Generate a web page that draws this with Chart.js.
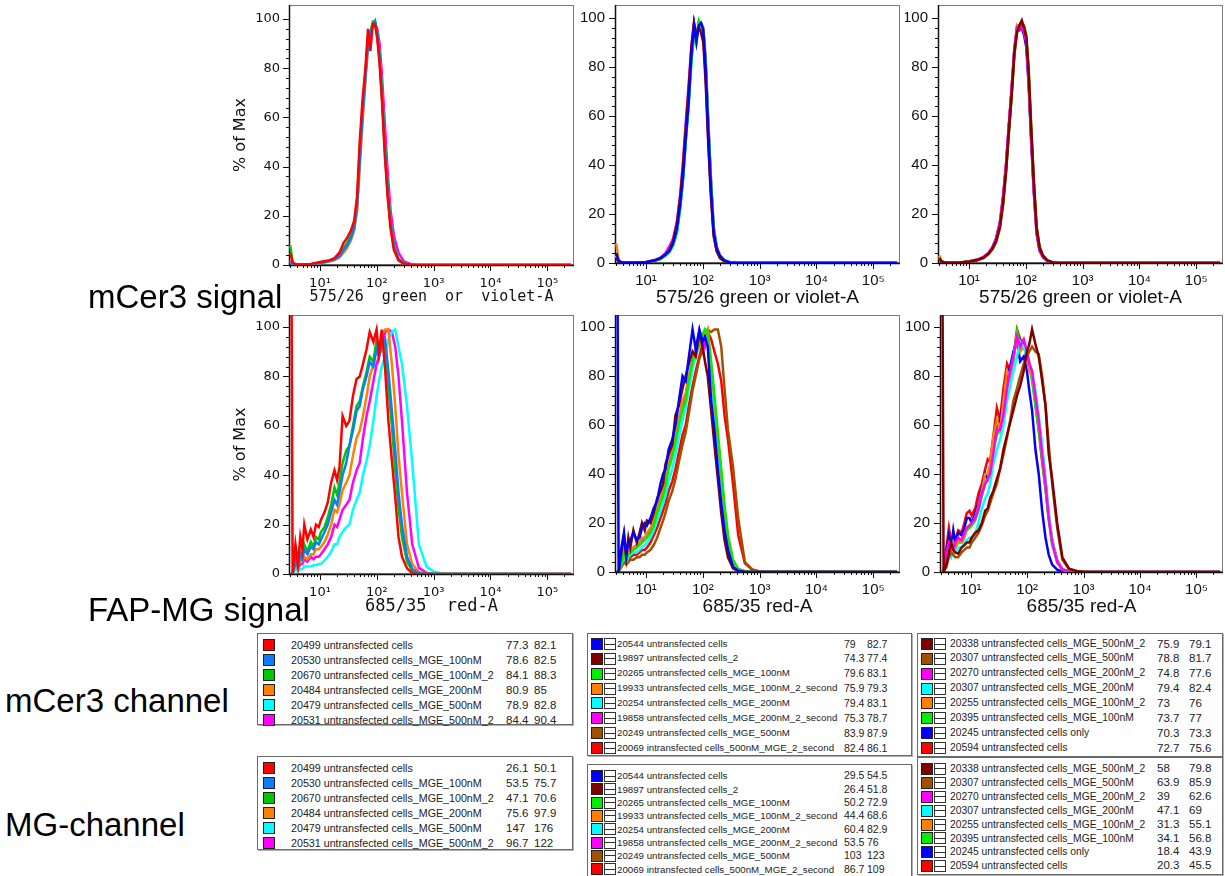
<!DOCTYPE html>
<html>
<head>
<meta charset="utf-8">
<script src="https://cdn.jsdelivr.net/npm/chart.js@4.4.1/dist/chart.umd.min.js"></script>
<style>
  body { margin: 0; width: 1225px; height: 876px; position: relative; overflow: hidden; background: #fff; font-family: "Liberation Sans", Arial, sans-serif; }
  canvas { position: absolute; }
  .lab { position: absolute; white-space: nowrap; line-height: 1; color: #000; z-index: 5; font-size: 33px; }
  .tbl { position: absolute; box-sizing: border-box; border: 1px solid #6a6a6a; box-shadow: 1px 1px 0 #b0b0b0; background: #fff; color: #222; z-index: 4; }
  .tbl span { position: absolute; white-space: nowrap; }
  .sw { width: 10px; height: 10px; border: 1px solid #222; }
  .ic { width: 10px; height: 10px; border: 1px solid #333; background: linear-gradient(#333, #333) center / 100% 1px no-repeat, #fff; }
</style>
</head>
<body>
<canvas id="p1"></canvas>
<canvas id="p2"></canvas>
<canvas id="p3"></canvas>
<canvas id="p4"></canvas>
<canvas id="p5"></canvas>
<canvas id="p6"></canvas>

<div class="lab" style="left:88px;top:280px">mCer3 signal</div>
<div class="lab" style="left:88px;top:593px">FAP-MG signal</div>
<div class="lab" style="left:5px;top:684px">mCer3 channel</div>
<div class="lab" style="left:5px;top:808px">MG-channel</div>

<script>
// --- dane: kanały (os X, skala log) ---
const xTop = [3, 3.3, 3.8, 5, 7, 10, 14, 18, 22, 26, 30, 35, 40, 45, 50, 56, 63, 70, 77, 85, 93, 102, 112, 124, 138, 155, 175, 200, 240, 300, 400, 600, 1000, 262144];
const xBot = [3.0, 3.3, 3.7, 4.1, 4.5, 4.9, 5.3, 6.0, 6.9, 7.7, 8.5, 9.5, 10.4, 12, 13.7, 15.7, 18, 20, 22, 25, 29, 33, 38, 44, 50, 57, 66, 75, 87, 99, 109, 122, 140, 160, 184, 211, 241, 277, 340, 420, 550, 750, 1000, 1400, 262144];

const xMajorTicks = [10, 100, 1000, 10000, 100000];
const xTickLabels = ['10¹', '10²', '10³', '10⁴', '10⁵'];
const yMajorTicks = [0, 20, 40, 60, 80, 100];

// --- grupa A (lewa kolumna) ---
const groupANames = ['20499 untransfected cells', '20530 untransfected cells_MGE_100nM', '20670 untransfected cells_MGE_100nM_2', '20484 untransfected cells_MGE_200nM', '20479 untransfected cells_MGE_500nM', '20531 untransfected cells_MGE_500nM_2'];
const groupAmCer = [[77.3, 82.1], [78.6, 82.5], [84.1, 88.3], [80.9, 85], [78.9, 82.8], [84.4, 90.4]];
const groupAMG = [[26.1, 50.1], [53.5, 75.7], [47.1, 70.6], [75.6, 97.9], [147, 176], [96.7, 122]];

// mCer3 histogramy, grupa A
const aTopRed     = [5, 1, 0.2, 0.2, 0.4, 1.2, 1.8, 2.8, 5, 9, 11, 14, 18, 28, 50, 67, 80, 96, 87, 98, 98, 92, 82, 66, 45, 28, 15, 6, 2, 0.5, 0.1, 0, 0, 0];
const aTopBlue    = [1.5, 0.5, 0.2, 0.2, 0.3, 0.8, 1.5, 2.2, 3.5, 6, 8, 11, 15, 24, 42, 60, 76, 90, 95, 97, 99, 94, 84, 68, 48, 30, 16, 7, 2.2, 0.6, 0.1, 0, 0, 0];
const aTopGreen   = [8, 1, 0.2, 0.2, 0.3, 0.9, 1.6, 2.4, 4, 7, 9, 12, 16, 26, 47, 63, 78, 92, 94, 99, 99, 95, 85, 70, 50, 32, 17, 8, 2.6, 0.7, 0.1, 0, 0, 0];
const aTopOrange  = [2, 0.5, 0.2, 0.2, 0.3, 0.7, 1.3, 2, 3, 5, 7, 10, 14, 22, 40, 58, 75, 89, 94, 98, 98, 93, 83, 67, 47, 29, 15, 7, 2, 0.5, 0.1, 0, 0, 0];
const aTopCyan    = [1.5, 0.5, 0.2, 0.2, 0.3, 0.8, 1.5, 2.2, 3.4, 6, 8, 11, 15, 24, 43, 61, 77, 91, 95, 98, 99, 94, 85, 69, 49, 31, 17, 8, 2.5, 0.6, 0.1, 0, 0, 0];
const aTopMagenta = [1.5, 0.5, 0.2, 0.2, 0.3, 0.8, 1.5, 2.2, 3.5, 6, 8, 11, 15, 24, 43, 61, 77, 90, 94, 97, 98, 96, 90, 76, 58, 38, 22, 12, 5, 1.5, 0.3, 0, 0, 0];

// MG histogramy, grupa A
const aBotRed     = [250, 0, 12, 4, 15, 10, 20, 14, 18, 15, 20, 19, 22, 25, 29, 37, 42, 38, 43, 64, 60, 62, 72, 79, 80, 85, 91, 98, 94, 99, 89, 99, 83, 62, 46, 31, 15, 7, 2.3, 0.3, 0, 0, 0, 0, 0];
const aBotBlue    = [0, 0, 5, 3, 8, 6, 10, 8, 11, 10, 13, 12, 14, 17, 20, 25, 30, 28, 33, 40, 45, 52, 58, 66, 68, 75, 80, 86, 84, 91, 88, 92, 95, 82, 66, 50, 33, 20, 7, 2, 0.3, 0, 0, 0, 0];
const aBotGreen   = [0, 0, 6, 3, 9, 7, 12, 9, 13, 11, 15, 14, 17, 19, 23, 28, 35, 32, 37, 45, 50, 52, 60, 68, 70, 76, 82, 88, 86, 95, 90, 96, 92, 75, 60, 42, 27, 15, 5, 1.2, 0.2, 0, 0, 0, 0];
const aBotOrange  = [0, 0, 4, 2, 6, 5, 7, 6, 8, 8, 10, 10, 11, 13, 16, 20, 26, 25, 28, 34, 37, 40, 48, 55, 58, 64, 72, 80, 85, 93, 90, 97, 99, 99, 85, 68, 48, 33, 12, 4, 0.8, 0, 0, 0, 0];
const aBotCyan    = [0, 0, 2, 1, 2, 2, 3, 3, 3, 3.5, 3.5, 4, 4, 5.5, 7, 9, 12, 12, 15, 17, 19, 20, 26, 30, 33, 40, 46, 52, 62, 72, 78, 84, 88, 95, 98, 99, 92, 85, 68, 45, 12, 3, 1, 0.2, 0];
const aBotMagenta = [0, 0, 3, 2, 4, 4, 6, 5, 7, 6, 7, 7, 8, 10, 12, 15, 20, 19, 22, 26, 28, 30, 37, 42, 45, 55, 64, 70, 78, 85, 88, 92, 98, 99, 98, 92, 80, 62, 33, 12, 2.5, 0.5, 0, 0, 0];

// --- grupa B (środkowa kolumna) ---
const groupBNames = ['20544 untransfected cells', '19897 untransfected cells_2', '20265 untransfected cells_MGE_100nM', '19933 untransfected cells_MGE_100nM_2_second', '20254 untransfected cells_MGE_200nM', '19858 untransfected cells_MGE_200nM_2_second', '20249 untransfected cells_MGE_500nM', '20069 intransfected cells_500nM_MGE_2_second'];
const groupBmCer = [[79, 82.7], [74.3, 77.4], [79.6, 83.1], [75.9, 79.3], [79.4, 83.1], [75.3, 78.7], [83.9, 87.9], [82.4, 86.1]];
const groupBMG = [[29.5, 54.5], [26.4, 51.8], [50.2, 72.9], [44.4, 68.6], [60.4, 82.9], [53.5, 76], [103, 123], [86.7, 109]];

const bTopBlue    = [4, 1, 0.2, 0.1, 0.1, 0.3, 1, 2, 3.5, 5, 8, 14, 24, 36, 51, 65, 85, 97, 90, 97, 98, 95, 80, 55, 32, 13, 6, 3, 1, 0.2, 0, 0, 0, 0];
const bTopDarkRed = [2, 0.5, 0.2, 0.1, 0.1, 0.3, 1, 2, 3.5, 5.5, 9, 16, 27, 40, 55, 70, 88, 98, 93, 96, 94, 90, 74, 50, 28, 11, 5, 2, 0.7, 0.1, 0, 0, 0, 0];
const bTopGreen   = [3, 0.5, 0.2, 0.1, 0.1, 0.3, 0.8, 1.6, 3, 4.5, 7, 12, 22, 34, 49, 63, 82, 92, 90, 99, 97, 95, 81, 57, 34, 14, 6, 3, 1, 0.2, 0, 0, 0, 0];
const bTopOrange  = [8, 1, 0.2, 0.1, 0.1, 0.3, 1, 2, 3.5, 5.5, 9, 15, 26, 39, 54, 68, 86, 97, 92, 96, 96, 92, 78, 54, 31, 12, 5, 2.5, 0.8, 0.1, 0, 0, 0, 0];
const bTopCyan    = [3, 0.5, 0.2, 0.1, 0.1, 0.3, 0.9, 1.8, 3.2, 5, 8, 13, 23, 35, 50, 64, 83, 95, 91, 98, 97, 95, 81, 57, 34, 14, 6, 3, 1, 0.2, 0, 0, 0, 0];
const bTopMagenta = [3, 0.5, 0.2, 0.1, 0.1, 0.4, 1.2, 2.2, 4, 7, 10, 17, 28, 42, 57, 72, 89, 98, 92, 96, 95, 92, 77, 52, 30, 12, 5, 2.5, 0.8, 0.1, 0, 0, 0, 0];
const bTopBrown   = [3, 0.5, 0.2, 0.1, 0.1, 0.3, 0.9, 1.9, 3.3, 5, 8, 14, 24, 37, 52, 67, 86, 96, 93, 98, 98, 96, 84, 60, 36, 15, 7, 3, 1, 0.2, 0, 0, 0, 0];
const bTopRed     = [3, 0.5, 0.2, 0.1, 0.1, 0.3, 0.8, 1.7, 3, 4.8, 7.5, 13, 23, 35, 50, 65, 84, 97, 92, 97, 97, 95, 82, 58, 35, 14, 6, 3, 1, 0.2, 0, 0, 0, 0];

const bBotBlue    = [250, 0, 10, 16, 7, 12, 13, 16, 13, 14, 18, 20, 19, 22, 26, 29, 36, 40, 42, 50, 54, 60, 70, 80, 78, 88, 99, 91, 99, 94, 96, 92, 70, 58, 42, 28, 17, 9, 2, 0.5, 0, 0, 0, 0, 0];
const bBotDarkRed = [0, 0, 8, 15, 6, 14, 10, 17, 12, 16, 20, 17, 21, 20, 24, 30, 33, 36, 44, 48, 52, 64, 68, 75, 80, 85, 90, 88, 98, 92, 86, 80, 66, 52, 38, 24, 13, 6, 1.5, 0.3, 0, 0, 0, 0, 0];
const bBotGreen   = [0, 0, 3, 8, 5, 7, 8, 9, 10, 11, 12, 13, 14, 16, 19, 24, 28, 31, 35, 42, 47, 53, 60, 66, 70, 78, 86, 90, 93, 97, 99, 98, 86, 72, 57, 42, 27, 15, 5, 1.2, 0.3, 0, 0, 0, 0];
const bBotOrange  = [0, 0, 4, 9, 5, 8, 9, 10, 11, 12, 14, 14, 16, 18, 21, 26, 31, 33, 38, 46, 50, 57, 63, 70, 73, 80, 86, 90, 92, 97, 96, 99, 84, 70, 54, 40, 25, 13, 4, 1, 0.2, 0, 0, 0, 0];
const bBotCyan    = [0, 0, 3, 6, 4, 6, 7, 8, 8, 9, 10, 11, 12, 14, 17, 21, 25, 28, 31, 37, 42, 48, 55, 62, 67, 75, 83, 88, 92, 96, 99, 96, 82, 66, 52, 38, 24, 13, 4, 1, 0.2, 0, 0, 0, 0];
const bBotMagenta = [0, 0, 4, 8, 5, 8, 9, 10, 11, 12, 13, 14, 15, 17, 20, 25, 30, 33, 38, 45, 50, 56, 62, 68, 72, 80, 86, 91, 94, 96, 92, 97, 84, 68, 54, 40, 26, 14, 4.5, 1.2, 0.2, 0, 0, 0, 0];
const bBotBrown   = [0, 0, 2, 4, 3, 4, 5, 5, 6, 6, 7, 7, 8, 9, 11, 14, 18, 21, 24, 29, 33, 38, 45, 52, 57, 65, 74, 80, 87, 90, 96, 99, 98, 99, 99, 92, 75, 58, 43, 22, 4, 1, 0.2, 0, 0];
const bBotRed     = [0, 0, 3, 5, 4, 5, 6, 7, 7, 8, 9, 9, 10, 12, 15, 18, 22, 25, 28, 33, 37, 42, 49, 56, 60, 68, 76, 82, 88, 93, 97, 98, 95, 90, 85, 78, 64, 54, 36, 15, 3.5, 0.8, 0.2, 0, 0];

// --- grupa C (prawa kolumna) ---
const groupCNames = ['20338 untransfected cells_MGE_500nM_2', '20307 untransfected cells_MGE_500nM', '20270 untransfected cells_MGE_200nM_2', '20307 untransfected cells_MGE_200nM', '20255 untransfected cells_MGE_100nM_2', '20395 untransfected cells_MGE_100nM', '20245 untransfected cells only', '20594 untransfected cells'];
const groupCmCer = [[75.9, 79.1], [78.8, 81.7], [74.8, 77.6], [79.4, 82.4], [73, 76], [73.7, 77], [70.3, 73.3], [72.7, 75.6]];
const groupCMG = [[58, 79.8], [63.9, 85.9], [39, 62.6], [47.1, 69], [31.3, 55.1], [34.1, 56.8], [18.4, 43.9], [20.3, 45.5]];

const cTopDarkRed = [2, 0.5, 0.2, 0.1, 0.2, 0.5, 1.2, 2.2, 3.8, 6, 9, 15, 25, 38, 53, 68, 86, 94, 97, 99, 96, 92, 78, 55, 33, 14, 6, 3, 1, 0.2, 0, 0, 0, 0];
const cTopBrown   = [2, 0.5, 0.2, 0.1, 0.2, 0.5, 1.1, 2, 3.5, 5.6, 8.5, 14, 24, 37, 52, 67, 85, 95, 96, 98, 97, 93, 80, 57, 35, 15, 7, 3, 1, 0.2, 0, 0, 0, 0];
const cTopMagenta = [2, 0.5, 0.2, 0.1, 0.2, 0.6, 1.4, 2.5, 4.2, 6.5, 10, 17, 28, 41, 56, 71, 88, 96, 95, 97, 94, 90, 75, 52, 30, 12, 5, 2.5, 0.8, 0.1, 0, 0, 0, 0];
const cTopCyan    = [2, 0.5, 0.2, 0.1, 0.2, 0.5, 1.2, 2.2, 3.8, 6, 9, 15, 25, 38, 53, 68, 86, 95, 96, 98, 96, 92, 78, 55, 33, 14, 6, 3, 1, 0.2, 0, 0, 0, 0];
const cTopOrange  = [3, 0.5, 0.2, 0.1, 0.2, 0.6, 1.3, 2.4, 4, 6.3, 9.5, 16, 27, 40, 55, 70, 87, 97, 96, 96, 95, 91, 76, 53, 31, 13, 5.5, 2.7, 0.9, 0.1, 0, 0, 0, 0];
const cTopGreen   = [3, 0.5, 0.2, 0.1, 0.2, 0.5, 1.2, 2.2, 3.8, 6, 9, 15, 25, 38, 53, 68, 85, 94, 97, 98, 96, 92, 78, 55, 33, 14, 6, 3, 1, 0.2, 0, 0, 0, 0];
const cTopBlue    = [2, 0.5, 0.2, 0.1, 0.2, 0.6, 1.3, 2.4, 4, 6.5, 10, 16, 27, 40, 55, 70, 87, 96, 95, 96, 93, 88, 73, 50, 29, 12, 5, 2.4, 0.8, 0.1, 0, 0, 0, 0];
const cTopRed     = [2, 0.5, 0.2, 0.1, 0.2, 0.6, 1.3, 2.4, 4, 6.3, 9.5, 16, 27, 40, 55, 70, 87, 96, 96, 97, 94, 90, 75, 52, 31, 13, 5.5, 2.7, 0.9, 0.1, 0, 0, 0, 0];

const cBotDarkRed = [250, 0, 3, 8, 12, 9, 8, 7.5, 10, 11, 12, 12, 14, 16, 17, 20, 25, 26, 30, 33, 38, 42, 50, 56, 61, 66, 72, 76, 82, 90, 93, 99, 93, 88, 78, 68, 48, 38, 20, 6, 1.4, 0.4, 0, 0, 0];
const cBotBrown   = [0, 0, 2, 6, 8, 7, 6, 6, 8, 9, 10, 10, 12, 14, 16, 19, 23, 25, 28, 32, 36, 42, 48, 55, 62, 70, 75, 80, 85, 88, 90, 92, 90, 89, 80, 68, 52, 36, 18, 5, 1.2, 0.3, 0, 0, 0];
const cBotMagenta = [0, 0, 8, 12, 10, 9, 12, 14, 13, 16, 18, 19, 20, 22, 26, 32, 36, 38, 40, 48, 58, 58, 64, 75, 82, 88, 96, 92, 95, 90, 85, 82, 72, 62, 48, 36, 22, 12, 4, 1, 0.2, 0, 0, 0, 0];
const cBotCyan    = [0, 0, 5, 8, 6, 9, 8, 10, 10, 12, 13, 14, 14, 16, 20, 26, 30, 32, 36, 44, 50, 54, 60, 70, 76, 82, 88, 94, 92, 88, 86, 82, 74, 64, 52, 38, 24, 13, 4, 1, 0.2, 0, 0, 0, 0];
const cBotOrange  = [0, 0, 6, 10, 8, 12, 10, 13, 12, 15, 18, 19, 20, 22, 27, 33, 40, 40, 44, 55, 62, 58, 70, 82, 80, 88, 95, 90, 92, 88, 82, 80, 72, 62, 50, 38, 24, 13, 4.5, 1.2, 0.2, 0, 0, 0, 0];
const cBotGreen   = [0, 0, 6, 11, 8, 11, 10, 12, 12, 14, 17, 18, 19, 21, 25, 31, 36, 38, 41, 50, 56, 58, 66, 76, 80, 86, 98, 92, 92, 88, 84, 78, 68, 58, 46, 34, 21, 11, 4, 1, 0.2, 0, 0, 0, 0];
const cBotBlue    = [0, 0, 8, 15, 10, 17, 12, 16, 15, 18, 22, 22, 20, 24, 28, 34, 40, 38, 42, 52, 60, 62, 70, 80, 84, 90, 94, 86, 88, 82, 74, 66, 50, 40, 25, 14, 7, 3, 1, 0.2, 0, 0, 0, 0, 0];
const cBotRed     = [0, 0, 10, 18, 12, 15, 13, 17, 16, 20, 24, 25, 23, 26, 32, 36, 42, 46, 45, 55, 67, 62, 75, 85, 82, 88, 99, 95, 93, 90, 85, 80, 68, 58, 45, 34, 22, 13, 5, 1, 0.2, 0, 0, 0, 0];

// --- kolory (styl) ---
const RED = '#ff0000', AZURE = '#0a7dff', GREEN = '#00c800', LIME = '#00ee00', ORANGE = '#ff8000',
      CYAN = '#00ffff', MAGENTA = '#ff00ff', BLUE = '#0000ff', DARKRED = '#800000', BROWN = '#a05000';
const colorsA = [RED, AZURE, GREEN, ORANGE, CYAN, MAGENTA];
const colorsB = [BLUE, DARKRED, LIME, ORANGE, CYAN, MAGENTA, BROWN, RED];
const colorsC = [DARKRED, BROWN, MAGENTA, CYAN, ORANGE, LIME, BLUE, RED];

// --- osie ---
const X_MIN = 2.85, X_MAX = 2.95e5;
const xTickVals = [];
for (let e = 0; e <= 5; e++) {
  for (let m = 1; m <= 9; m++) {
    const v = m * Math.pow(10, e);
    if (v >= X_MIN && v <= X_MAX) xTickVals.push(v);
  }
}
const yTickVals = [];
for (let v = 0; v <= 100; v += 4) yTickVals.push(v);

// ramka wykresu + znaczniki osi (duże i małe)
const axesFrame = {
  id: 'axesFrame',
  beforeDatasetsDraw(chart) {
    const { ctx, chartArea: a } = chart;
    const xs = chart.scales.x, ys = chart.scales.y;
    ctx.save();
    ctx.strokeStyle = '#7a7a7a';
    ctx.lineWidth = 1;
    ctx.strokeRect(a.left + 0.5, a.top + 0.5, a.right - a.left - 1, a.bottom - a.top - 1);
    ctx.strokeStyle = '#111';
    ctx.lineWidth = 1.5;
    ctx.beginPath();
    ctx.moveTo(a.left + 0.5, a.top);
    ctx.lineTo(a.left + 0.5, a.bottom + 0.5);
    ctx.lineTo(a.right, a.bottom + 0.5);
    ctx.stroke();
    ctx.lineWidth = 1;
    ctx.beginPath();
    xTickVals.forEach(v => {
      const px = Math.round(xs.getPixelForValue(v)) + 0.5;
      const len = xMajorTicks.includes(v) ? 6 : 3;
      ctx.moveTo(px, a.bottom);
      ctx.lineTo(px, a.bottom + len);
    });
    yTickVals.forEach(v => {
      const py = Math.round(ys.getPixelForValue(v)) + 0.5;
      const len = yMajorTicks.includes(v) ? 6 : 3;
      ctx.moveTo(a.left, py);
      ctx.lineTo(a.left - len, py);
    });
    ctx.stroke();
    ctx.restore();
  }
};

function drawPanel(id, g, xs, series, colors, st) {
  const cv = document.getElementById(id);
  cv.width = g.w; cv.height = g.h;
  cv.style.left = g.left + 'px';
  cv.style.top = g.top + 'px';
  const yW = g.aL - g.left;
  const xH = g.top + g.h - g.aB;

  new Chart(cv, {
    type: 'line',
    data: {
      datasets: series.map((s, i) => ({
        data: xs.map((x, j) => ({ x: x, y: s[j] })),
        borderColor: colors[i],
        borderWidth: 2.5,
        pointRadius: 0,
        tension: 0,
        fill: false
      }))
    },
    options: {
      responsive: false,
      animation: false,
      events: [],
      layout: { padding: { left: 0, top: g.aT - g.top, right: g.left + g.w - g.aR, bottom: 0 } },
      plugins: { legend: { display: false }, tooltip: { enabled: false } },
      scales: {
        x: {
          type: 'logarithmic',
          min: X_MIN, max: X_MAX,
          afterBuildTicks: s => { s.ticks = xTickVals.map(v => ({ value: v })); },
          afterFit: s => { s.height = xH; s.paddingLeft = 0; s.paddingRight = 0; },
          grid: { display: false, drawTicks: false },
          border: { display: false },
          ticks: {
            autoSkip: false, maxRotation: 0, minRotation: 0, padding: st.xPad, color: '#111',
            font: { family: st.tickFamily, size: st.tickSize },
            callback: v => { const k = xMajorTicks.indexOf(v); return k >= 0 ? xTickLabels[k] : ''; }
          },
          title: {
            display: true, text: st.xTitle, color: '#111',
            font: { family: st.titleFamily, size: st.titleSize },
            padding: { top: 0, bottom: st.titlePad }
          }
        },
        y: {
          min: 0, max: g.yMax,
          afterBuildTicks: s => { s.ticks = yTickVals.map(v => ({ value: v })); },
          afterFit: s => { s.width = yW; s.paddingTop = 0; s.paddingBottom = 0; },
          grid: { display: false, drawTicks: false },
          border: { display: false },
          ticks: {
            autoSkip: false, padding: st.yPad, color: '#111',
            font: { family: st.tickFamily, size: st.tickSize },
            callback: v => yMajorTicks.includes(v) ? String(v) : ''
          },
          title: {
            display: !!st.yTitle, text: st.yTitle || '', color: '#111',
            font: { family: 'DejaVu Sans', size: 16 },
            padding: { top: 6, bottom: 0 }
          }
        }
      }
    },
    plugins: [axesFrame]
  });
}

const leftTop = { tickFamily: 'DejaVu Sans', tickSize: 13, xPad: 11, yPad: 9, titleFamily: 'DejaVu Sans Mono', titleSize: 15, titlePad: 4, xTitle: '575/26  green  or  violet-A', yTitle: '% of Max' };
const leftBot = { tickFamily: 'DejaVu Sans', tickSize: 13, xPad: 11, yPad: 9, titleFamily: 'DejaVu Sans Mono', titleSize: 17, titlePad: 5, xTitle: '685/35  red-A', yTitle: '% of Max' };
const sideTop = { tickFamily: 'Liberation Sans', tickSize: 15, xPad: 9, yPad: 10, titleFamily: 'Liberation Sans', titleSize: 19, titlePad: 1, xTitle: '575/26 green or violet-A' };
const sideBot = { tickFamily: 'Liberation Sans', tickSize: 15, xPad: 9, yPad: 10, titleFamily: 'Liberation Sans', titleSize: 19, titlePad: 4, xTitle: '685/35 red-A' };

drawPanel('p1', { left: 225, top: 0, w: 355, h: 310, aL: 289, aT: 5, aR: 574, aB: 265, yMax: 105.7 }, xTop,
  [aTopRed, aTopBlue, aTopGreen, aTopOrange, aTopCyan, aTopMagenta], colorsA, leftTop);
drawPanel('p2', { left: 580, top: 0, w: 325, h: 310, aL: 615, aT: 5, aR: 900, aB: 263, yMax: 105.3 }, xTop,
  [bTopBlue, bTopDarkRed, bTopGreen, bTopOrange, bTopCyan, bTopMagenta, bTopBrown, bTopRed], colorsB, sideTop);
drawPanel('p3', { left: 905, top: 0, w: 320, h: 310, aL: 938, aT: 5, aR: 1223, aB: 263, yMax: 105.3 }, xTop,
  [cTopDarkRed, cTopBrown, cTopMagenta, cTopCyan, cTopOrange, cTopGreen, cTopBlue, cTopRed], colorsC, sideTop);
drawPanel('p4', { left: 225, top: 310, w: 355, h: 312, aL: 289, aT: 315, aR: 574, aB: 574, yMax: 104.9 }, xBot,
  [aBotRed, aBotBlue, aBotGreen, aBotOrange, aBotCyan, aBotMagenta], colorsA, leftBot);
drawPanel('p5', { left: 580, top: 310, w: 325, h: 312, aL: 615, aT: 315, aR: 900, aB: 572, yMax: 104.9 }, xBot,
  [bBotBlue, bBotDarkRed, bBotGreen, bBotOrange, bBotCyan, bBotMagenta, bBotBrown, bBotRed], colorsB, sideBot);
drawPanel('p6', { left: 905, top: 310, w: 320, h: 312, aL: 940, aT: 315, aR: 1223, aB: 572, yMax: 104.9 }, xBot,
  [cBotDarkRed, cBotBrown, cBotMagenta, cBotCyan, cBotOrange, cBotGreen, cBotBlue, cBotRed], colorsC, sideBot);

// --- tabele statystyk (legendy) ---
function buildTable(box, names, stats, colors) {
  const t = document.createElement('div');
  t.className = 'tbl';
  t.style.left = box.left + 'px';
  t.style.top = box.top + 'px';
  t.style.width = box.w + 'px';
  t.style.height = box.h + 'px';
  names.forEach((n, i) => {
    const y = box.off + i * box.rowH;
    const sw = document.createElement('span');
    sw.className = 'sw';
    sw.style.left = box.sw + 'px';
    sw.style.top = (y + (box.rowH - 12) / 2) + 'px';
    sw.style.background = colors[i];
    t.appendChild(sw);
    if (box.icon != null) {
      const ic = document.createElement('span');
      ic.className = 'ic';
      ic.style.left = box.icon + 'px';
      ic.style.top = (y + (box.rowH - 12) / 2) + 'px';
      t.appendChild(ic);
    }
    [[n, box.name, box.fn], [String(stats[i][0]), box.v1, box.fv], [String(stats[i][1]), box.v2, box.fv]].forEach(([txt, x, fs]) => {
      const s = document.createElement('span');
      s.textContent = txt;
      s.style.left = x + 'px';
      s.style.top = y + 'px';
      s.style.fontSize = fs + 'px';
      s.style.lineHeight = box.rowH + 'px';
      t.appendChild(s);
    });
  });
  document.body.appendChild(t);
}

const boxA1 = { left: 257, top: 633, w: 316, h: 92, off: 3.5, rowH: 15, sw: 5, icon: null, name: 33, v1: 248, v2: 276, fn: 10.7, fv: 11.5 };
const boxB1 = { left: 587, top: 633, w: 325, h: 123, off: 2.6, rowH: 14.86, sw: 3, icon: 16, name: 29, v1: 256, v2: 279, fn: 9.7, fv: 10.5 };
const boxC1 = { left: 917, top: 633, w: 306, h: 124, off: 2.6, rowH: 14.86, sw: 3, icon: 16, name: 32, v1: 239, v2: 271, fn: 10.3, fv: 11.5 };
const boxA2 = Object.assign({}, boxA1, { top: 756, h: 94 });
const boxB2 = Object.assign({}, boxB1, { top: 764, h: 114, off: 4.4, rowH: 13.3 });
const boxC2 = Object.assign({}, boxC1, { top: 757, h: 118, off: 4, rowH: 13.9 });

buildTable(boxA1, groupANames, groupAmCer, colorsA);
buildTable(boxB1, groupBNames, groupBmCer, colorsB);
buildTable(boxC1, groupCNames, groupCmCer, colorsC);
buildTable(boxA2, groupANames, groupAMG, colorsA);
buildTable(boxB2, groupBNames, groupBMG, colorsB);
buildTable(boxC2, groupCNames, groupCMG, colorsC);
</script>
</body>
</html>
